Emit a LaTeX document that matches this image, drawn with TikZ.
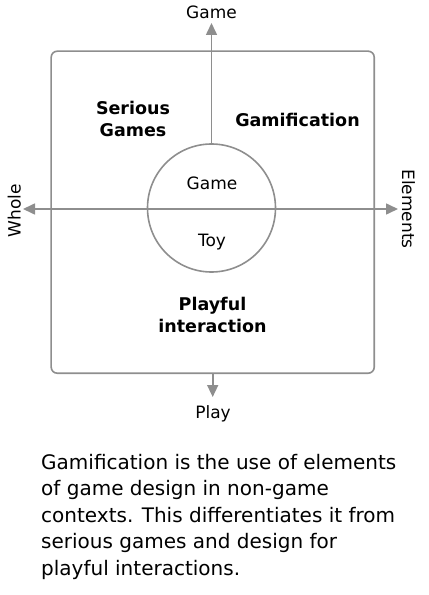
\documentclass[tikz,border=0pt]{standalone}
\usepackage{fontspec}
\setmainfont{DejaVu Sans}
\usetikzlibrary{arrows.meta}
\definecolor{axisgray}{HTML}{8E8E8E}

\begin{document}
\begin{tikzpicture}[x=1bp,y=-1bp,
    >={Triangle[length=12bp,width=11bp]},
    axis/.style={draw=axisgray,line width=1.6bp},
    small/.style={font=\fontsize{17bp}{22bp}\selectfont,inner sep=0pt},
    quadrant/.style={small,font=\fontsize{17.5bp}{22bp}\selectfont\bfseries,align=center}]
    \useasboundingbox (0,0) rectangle (428,595);
    \node [axis,rounded corners=6bp,minimum width=323bp,minimum height=322bp,inner sep=0pt] (frame) at (212.7,212.2) {};
    \node [axis,circle,minimum size=128bp,inner sep=0pt] (core) at (211.5,208) {};
    \coordinate (gametip) at (211.5,23);
    \coordinate (playtip) at (212.7,397);
    \coordinate (wholetip) at (23,209);
    \coordinate (elemtip) at (398,209);
    \draw [axis,->] (core.north) -- (gametip);
    \draw [axis,->] (frame.south) -- (playtip);
    \draw [axis,<->] (wholetip) -- (elemtip);
    \node [small,anchor=base] (game) at (211.5,18.5) {Game};
    \node [small,anchor=base] (play) at (213,418) {Play};
    \node [small,anchor=base,rotate=90] (whole) at (20.5,211) {Whole};
    \node [small,anchor=base,rotate=-90] (elements) at (402,209) {Elements};
    \node [small,anchor=base] (coregame) at (212,189) {Game};
    \node [small,anchor=base] (coretoy) at (212,246) {Toy};
    % quadrant names
    \node [quadrant,anchor=base] (serious) at (133,136.7) {Serious\\Games};
    \node [quadrant,anchor=base] (gamif) at (297.5,126.7) {Gamification};
    \node [quadrant,anchor=base] (playful) at (212.5,332) {Playful\\interaction};
    % caption
    \node [anchor=base west,align=left,inner sep=0pt,font=\fontsize{20bp}{26.5bp}\selectfont] (caption) at (41,575)
        {Gamification is the use of elements\\of game design in non-game\\contexts. This differentiates it from\\serious games and design for\\playful interactions.};
\end{tikzpicture}
\end{document}
